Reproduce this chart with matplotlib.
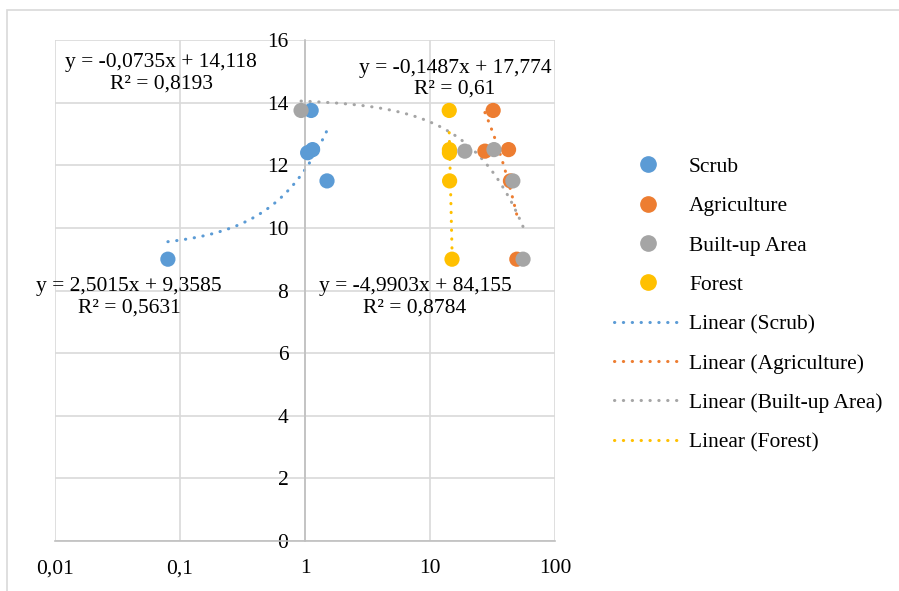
import matplotlib
matplotlib.use("Agg")
import matplotlib.pyplot as plt
import numpy as np
from matplotlib.lines import Line2D
from matplotlib.patches import Rectangle

plt.rcParams['font.family'] = ['Liberation Serif', 'DejaVu Serif']

series_names = ["Scrub", "Agriculture", "Built-up Area", "Forest"]
colors = ["#5B9BD5", "#ED7D31", "#A5A5A5", "#FFC000"]

scrub_x = [0.08, 1.05, 1.15, 1.12, 1.5]
scrub_y = [9.0, 12.4, 12.5, 13.75, 11.5]
agri_x = [32.0, 27.5, 42.5, 44.0, 49.5]
agri_y = [13.75, 12.45, 12.5, 11.5, 9.0]
built_x = [0.93, 19.0, 32.5, 46.0, 55.5]
built_y = [13.75, 12.45, 12.5, 11.5, 9.0]
forest_x = [14.25, 14.3, 14.3, 14.35, 15.0]
forest_y = [13.75, 12.5, 12.4, 11.5, 9.0]

trend_slopes = [2.5015, -0.1487, -0.0735, -4.9903]
trend_intercepts = [9.3585, 17.774, 14.118, 84.155]
trend_labels = ["y = 2,5015x + 9,3585\nR² = 0,5631",
                "y = -0,1487x + 17,774\nR² = 0,61",
                "y = -0,0735x + 14,118\nR² = 0,8193",
                "y = -4,9903x + 84,155\nR² = 0,8784"]

x_ticks = [0.01, 0.1, 1, 10, 100]
x_tick_labels = ["0,01", "0,1", "1", "10", "100"]
y_ticks = [0, 2, 4, 6, 8, 10, 12, 14, 16]

xs = [scrub_x, agri_x, built_x, forest_x]
ys = [scrub_y, agri_y, built_y, forest_y]

FS = 15.5
fig = plt.figure(figsize=(8.99, 5.91), dpi=100)
W, H = 899, 591
ax = fig.add_axes([55 / W, 1 - 541 / H, 500 / W, 501 / H])

# chart border
fig.patches.append(Rectangle((7 / W, -0.05), 1.2, 1 - 10 / H + 0.05, transform=fig.transFigure,
                             fill=False, edgecolor="#D9D9D9", lw=1.2))

ax.set_xscale("log")
ax.set_xlim(0.01, 100)
ax.set_ylim(0, 16)

for xv in x_ticks:
    ax.axvline(xv, color="#D9D9D9", lw=1.2, zorder=0)
for yv in y_ticks:
    ax.axhline(yv, color="#D9D9D9", lw=1.2, zorder=0)

for s in ["top", "right"]:
    ax.spines[s].set_visible(False)
ax.spines["left"].set_position(("data", 1))
ax.spines["left"].set_color("#BFBFBF")
ax.spines["bottom"].set_color("#BFBFBF")
ax.spines["left"].set_linewidth(1.2)
ax.spines["bottom"].set_linewidth(1.2)

ax.set_xticks(x_ticks)
ax.set_xticklabels(x_tick_labels)
ax.xaxis.set_minor_locator(matplotlib.ticker.NullLocator())
ax.set_yticks(y_ticks)
ax.set_yticklabels([str(v) for v in y_ticks])
ax.tick_params(axis="both", length=0, labelsize=FS)
ax.tick_params(axis="x", pad=13)
ax.tick_params(axis="y", pad=12)

handles_pts = []
handles_lines = []
DOT = (0, (0.1, 2.8))
for name, c, x, y, m, b in zip(series_names, colors, xs, ys, trend_slopes, trend_intercepts):
    ax.scatter(x, y, s=120, color=c, zorder=3, edgecolors="none")
    xx = np.linspace(min(x), max(x), 200)
    ax.plot(xx, m * xx + b, color=c, lw=2.2, linestyle=DOT,
            dash_capstyle="round", zorder=2)
    handles_pts.append(Line2D([], [], marker="o", color=c, linestyle="none", markersize=11))
    handles_lines.append(Line2D([], [], color=c, lw=2.2, linestyle=DOT,
                                dash_capstyle="round"))

# trendline labels (positioned in data coords)
label_pos = [(0.039, 7.79), (15.8, 14.76), (0.0705, 14.93), (7.59, 7.79)]
for (lx, ly), txt in zip(label_pos, trend_labels):
    ax.text(lx, ly, txt, ha="center", va="center", fontsize=FS, linespacing=1.15, zorder=4)

labels = series_names + ["Linear (%s)" % n for n in series_names]
leg = fig.legend(handles_pts + handles_lines, labels, loc="upper left",
                 bbox_to_anchor=(603 / W, 1 - 146 / H), frameon=False, fontsize=FS,
                 handlelength=3.2, handletextpad=0.3, labelspacing=0.895, borderpad=0)

fig.savefig("out.png", dpi=100)
